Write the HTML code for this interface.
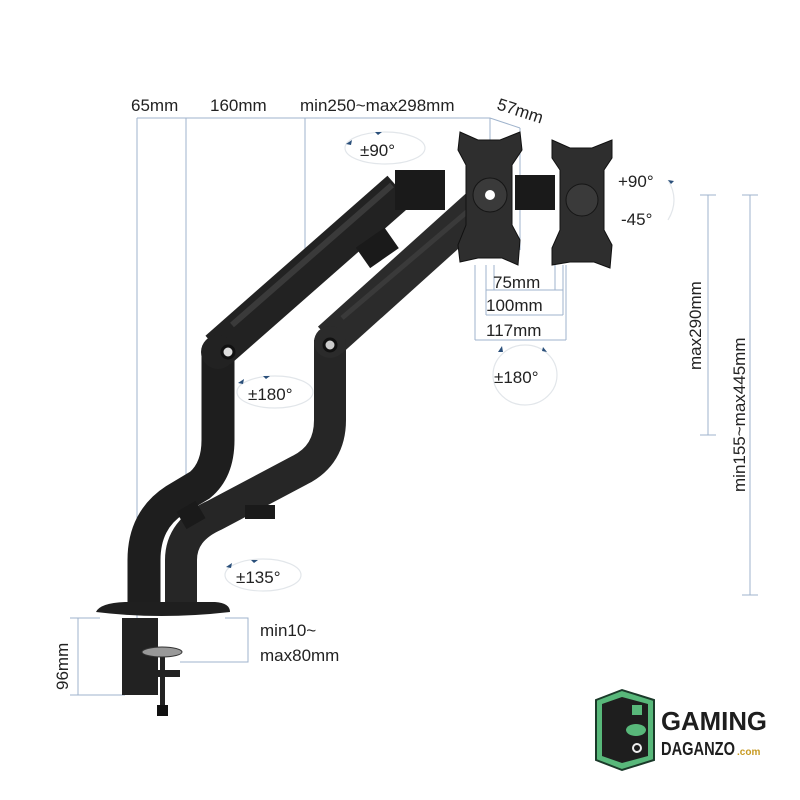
<!DOCTYPE html>
<html><head><meta charset="utf-8"><style>
html,body{margin:0;padding:0;background:#fff}
svg{display:block}
text{font-family:"Liberation Sans",sans-serif;fill:#222}
</style></head><body>
<svg width="800" height="800" viewBox="0 0 800 800" xmlns="http://www.w3.org/2000/svg">
<rect width="800" height="800" fill="#fff"/>
<g stroke="#9fb3cc" stroke-width="1" fill="none">
<path d="M137 118 H490 L520 128"/>
<path d="M137 118 V695"/>
<path d="M186 118 V560"/>
<path d="M305 118 V250"/>
<path d="M490 118 V240"/>
<path d="M520 128 V250"/>
<path d="M78 618 V695 M70 618 H100 M70 695 H125"/>
<path d="M225 618 H248 V662 H180"/>
<path d="M700 195 H716 M708 195 V435 M700 435 H716"/>
<path d="M742 195 H758 M750 195 V595 M742 595 H758"/>
<path d="M494 265 V290 M555 265 V290 M486 290 H563"/>
<path d="M486 265 V315 M563 265 V315 M486 315 H563"/>
<path d="M475 265 V340 M566 265 V340 M475 340 H566"/>
</g>
<g fill="none" stroke="#e2e6ea" stroke-width="1.2">
<ellipse cx="385" cy="148" rx="40" ry="16"/>
<ellipse cx="275" cy="392" rx="38" ry="16"/>
<ellipse cx="263" cy="575" rx="38" ry="16"/>
<ellipse cx="525" cy="375" rx="32" ry="30"/>
<path d="M668 180 Q680 200 668 220"/>
</g>
<g fill="#2a4f7a">
<path d="M346 144 l6 -4 l-1 5z M382 132 l-7 0 l3 3z M238 383 l6 -4 l-1 5z M270 376 l-7 0 l3 3z M226 567 l6 -4 l-1 5z M258 560 l-7 0 l3 3z M498 352 l4 -6 l1 6z M543 347 l4 5 l-5 -1z M668 180 l6 1 l-3 3z"/>
</g>
<!-- arms -->
<g stroke-linecap="butt" fill="none">
<path d="M144 610 V560 Q144 520 175 500 L200 485 Q218 470 218 440 V350" stroke="#1e1e1e" stroke-width="33"/>
<path d="M181 610 V560 Q181 530 215 515 L300 470 Q330 455 330 420 V340" stroke="#262626" stroke-width="32"/>
<path d="M218 350 L400 190" stroke="#222" stroke-width="38"/>
<path d="M330 340 L480 205" stroke="#2b2b2b" stroke-width="36"/>
</g>
<circle cx="218" cy="352" r="17" fill="#222"/>
<circle cx="330" cy="342" r="16" fill="#2b2b2b"/>
<path d="M232 325 L392 185" stroke="#3a3a3a" stroke-width="6"/>
<path d="M342 318 L475 205" stroke="#3a3a3a" stroke-width="5"/>
<circle cx="228" cy="352" r="6" fill="#ddd" stroke="#111" stroke-width="3"/>
<circle cx="330" cy="345" r="6" fill="#ccc" stroke="#111" stroke-width="3"/>
<rect x="395" y="170" width="50" height="40" fill="#1a1a1a"/>
<rect x="515" y="175" width="40" height="35" fill="#1a1a1a"/>
<rect x="360" y="235" width="35" height="25" fill="#1a1a1a" transform="rotate(-35 378 248)"/>
<rect x="245" y="505" width="30" height="14" fill="#1a1a1a"/>
<rect x="180" y="505" width="22" height="20" fill="#1a1a1a" transform="rotate(-30 191 515)"/>
<!-- VESA plates -->
<g fill="#2e2e2e" stroke="#111" stroke-width="1">
<path d="M460 132 L478 140 L500 140 L520 132 L522 150 L512 165 V225 L520 240 L518 265 L502 258 H478 L460 262 L458 245 L466 225 V165 L458 150Z"/>
<path d="M552 140 L570 148 L592 148 L612 140 L612 158 L604 170 V230 L612 245 L610 268 L594 262 H570 L552 265 L552 248 L560 230 V170 L552 158Z"/>
</g>
<circle cx="490" cy="195" r="17" fill="#3a3a3a" stroke="#151515"/>
<circle cx="490" cy="195" r="5" fill="#fff"/>
<circle cx="582" cy="200" r="16" fill="#3a3a3a" stroke="#151515"/>
<!-- base and clamp -->
<path d="M96 612 Q100 603 125 602 H215 Q230 603 230 612 Q160 620 96 612Z" fill="#1f1f1f"/>
<rect x="122" y="618" width="36" height="77" fill="#222"/>
<rect x="150" y="670" width="30" height="7" fill="#222"/>
<rect x="160" y="650" width="5" height="62" fill="#222"/>
<rect x="157" y="705" width="11" height="11" fill="#111"/>
<ellipse cx="162" cy="652" rx="20" ry="5" fill="#999" stroke="#333"/>
<!-- labels -->
<g font-size="17">
<text x="131" y="111">65mm</text>
<text x="210" y="111">160mm</text>
<text x="300" y="111">min250~max298mm</text>
<text x="496" y="109" transform="rotate(18 496 109)">57mm</text>
<text x="360" y="156">±90°</text>
<text x="248" y="400">±180°</text>
<text x="236" y="583">±135°</text>
<text x="494" y="383">±180°</text>
<text x="618" y="187">+90°</text>
<text x="621" y="225">-45°</text>
<text x="493" y="288">75mm</text>
<text x="486" y="311">100mm</text>
<text x="486" y="336">117mm</text>
<text x="260" y="636">min10~</text>
<text x="260" y="661">max80mm</text>
<text transform="translate(68 690) rotate(-90)">96mm</text>
<text transform="translate(701 370) rotate(-90)">max290mm</text>
<text transform="translate(745 492) rotate(-90)">min155~max445mm</text>
</g>
<!-- logo -->
<path d="M596 700 L622 690 L654 700 V760 L622 770 L596 760Z" fill="#58b87a" stroke="#1b3a2a" stroke-width="2"/>
<path d="M602 704 L622 697 L648 704 V756 L622 763 L602 756Z" fill="#1e1e1e"/>
<rect x="632" y="705" width="10" height="10" fill="#58b87a"/>
<ellipse cx="636" cy="730" rx="10" ry="6" fill="#58b87a"/>
<circle cx="637" cy="748" r="4" fill="none" stroke="#eee" stroke-width="2"/>
<text x="661" y="730" font-size="26" font-weight="bold" style="fill:#1e1e1e" textLength="106" lengthAdjust="spacingAndGlyphs">GAMING</text>
<text x="661" y="755" font-size="18" font-weight="bold" style="fill:#1e1e1e" textLength="74" lengthAdjust="spacingAndGlyphs">DAGANZO</text>
<text x="737" y="755" font-size="10" font-weight="bold" style="fill:#c79a22">.com</text>
</svg>
</body></html>
